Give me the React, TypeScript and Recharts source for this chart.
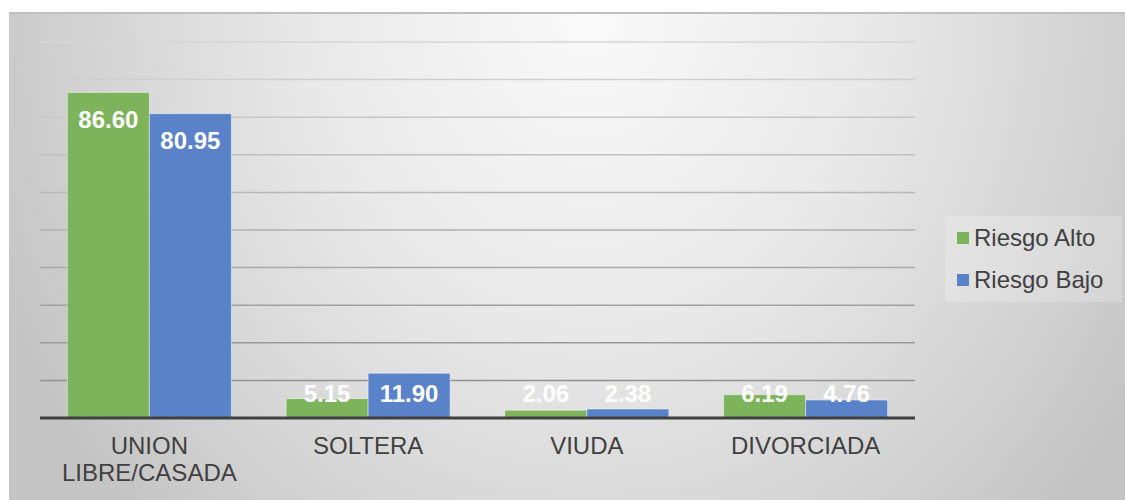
import { Bar, BarChart, CartesianGrid, LabelList, Text, XAxis, YAxis } from "recharts";

const categories = ["UNION LIBRE/CASADA", "SOLTERA", "VIUDA", "DIVORCIADA"];
const riesgoAlto = [86.6, 5.15, 2.06, 6.19];
const riesgoBajo = [80.95, 11.9, 2.38, 4.76];
const yTicks = [0, 10, 20, 30, 40, 50, 60, 70, 80, 90, 100];

const GREEN = "#7db35b";
const BLUE = "#5a82c8";
const FONT = "'Liberation Sans', Arial, sans-serif";

const data = categories.map((name, i) => ({ name, alto: riesgoAlto[i], bajo: riesgoBajo[i] }));

function CategoryTick(props: any) {
  const { x, y, payload } = props;
  return (
    <Text
      x={x}
      y={y + 11}
      width={150}
      lineHeight={27}
      textAnchor="middle"
      verticalAnchor="start"
      fill="#404040"
      style={{ fontFamily: FONT, fontSize: 24 }}
    >
      {payload.value}
    </Text>
  );
}

// excel-ish "inside end": near the top, but never lower than ~25px above the axis
function ValueLabel(props: any) {
  const { x, y, width, height, value } = props;
  const cy = Math.min(y + 27, y + height - 25);
  return (
    <text
      x={x + width / 2}
      y={cy}
      textAnchor="middle"
      dominantBaseline="central"
      fill="#ffffff"
      style={{ fontFamily: FONT, fontSize: 24, fontWeight: 700 }}
    >
      {Number(value).toFixed(2)}
    </text>
  );
}

export default function App() {
  return (
    <div
      style={{
        position: "absolute",
        left: 9,
        top: 12,
        width: 1116,
        height: 488,
        borderTop: "2px solid #bfbfbf",
        boxSizing: "border-box",
        background: "radial-gradient(ellipse 640px 720px at 52% 0%, #fafafa 0%, #e8e8e8 45%, #d2d2d2 80%, #c4c4c4 100%)",
        fontFamily: FONT,
      }}
    >
      <div style={{ position: "absolute", left: 0, top: -2 }}>
        <BarChart
          width={1116}
          height={488}
          data={data}
          margin={{ top: 30, right: 210, bottom: 22, left: 31 }}
          barCategoryGap="12.5%"
          barGap={0}
        >
          <defs>
            <linearGradient id="gridGrad" gradientUnits="userSpaceOnUse" x1="0" y1="30" x2="0" y2="406">
              <stop offset="0%" stopColor="#d6d6d6" />
              <stop offset="100%" stopColor="#8a8a8a" />
            </linearGradient>
          </defs>
          <CartesianGrid vertical={false} stroke="url(#gridGrad)" strokeWidth={1.5} />
          <YAxis hide domain={[0, 100]} ticks={yTicks} />
          <XAxis
            dataKey="name"
            height={60}
            axisLine={{ stroke: "#404040", strokeWidth: 3 }}
            tickLine={false}
            tick={<CategoryTick />}
            interval={0}
          />
          <Bar dataKey="alto" name="Riesgo Alto" fill={GREEN} stroke="rgba(255,255,255,0.45)" isAnimationActive={false}>
            <LabelList dataKey="alto" content={<ValueLabel />} />
          </Bar>
          <Bar dataKey="bajo" name="Riesgo Bajo" fill={BLUE} stroke="rgba(255,255,255,0.45)" isAnimationActive={false}>
            <LabelList dataKey="bajo" content={<ValueLabel />} />
          </Bar>
        </BarChart>
      </div>
      <div
        style={{
          position: "absolute",
          left: 936,
          top: 202,
          width: 177,
          height: 86,
          background: "rgba(255,255,255,0.22)",
          color: "#404040",
          fontSize: 24,
        }}
      >
        {[
          { label: "Riesgo Alto", color: GREEN },
          { label: "Riesgo Bajo", color: BLUE },
        ].map((item, i) => (
          <div
            key={item.label}
            style={{ position: "absolute", left: 12, top: 22 + i * 42 - 14, height: 28, display: "flex", alignItems: "center", whiteSpace: "nowrap" }}
          >
            <span style={{ display: "inline-block", width: 12, height: 12, background: item.color, marginRight: 5 }} />
            <span>{item.label}</span>
          </div>
        ))}
      </div>
    </div>
  );
}
